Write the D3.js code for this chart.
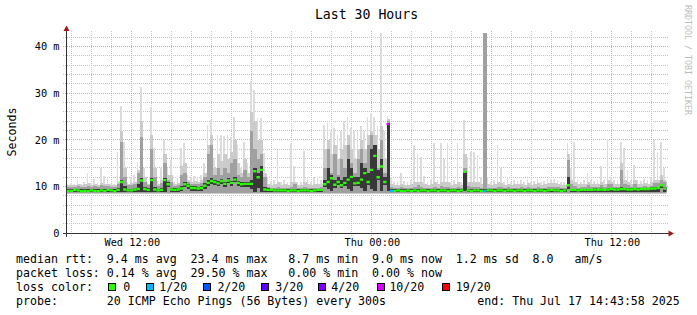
<!DOCTYPE html>
<html><head><meta charset="utf-8">
<script src="https://cdn.jsdelivr.net/npm/d3@7"></script>
<style>
html,body{margin:0;padding:0;background:#fff;}
svg{display:block;}
text{font-family:"DejaVu Sans Mono",monospace;white-space:pre;}
</style></head><body>
<svg id="c" width="697" height="315" xml:space="preserve"></svg>
<script>
// ---- data: 180 buckets of 10 minutes, Wed Jul 16 08:43:58 -> Thu Jul 17 14:43:58 (ms)
const medianMs = [
9.1,9.1,9.3,9.2,9.0,9.1,9.0,9.2,9.1,9.0, 9.2,9.1,9.3,9.2,9.0,9.3,11.0,9.4,9.2,9.2,
9.4,9.5,11.3,9.5,9.3,11.4,9.4,9.2,9.3,11.4, 10.5,9.4,9.3,9.4,9.6,10.5,10.2,9.7,9.7,9.6,
9.7,10.2,10.8,11.2,11.0,10.7,11.2,10.6,11.3,10.8, 11.5,10.8,10.5,10.6,10.6,10.6,13.3,12.0,13.6,9.4,
9.3,9.3,9.2,9.2,9.2,9.2,9.1,9.2,9.2,9.1, 9.2,9.2,9.2,9.1,9.2,9.3,9.3,10.5,11.0,11.8,
10.4,11.0,10.3,10.8,11.5,12.1,10.7,10.8,11.5,12.9, 11.0,13.6,16.6,12.0,14.3,11.0,23.4,9.1,9.1,9.2,
9.1,9.1,9.2,9.1,9.2,9.1,9.2,9.2,9.1,9.2, 9.2,9.1,9.2,9.2,9.1,9.2,9.2,9.1,9.2,13.2,
9.2,9.1,9.2,9.2,9.1,9.1,9.2,9.2,9.1,9.2, 9.2,9.1,9.2,9.2,9.1,9.2,9.2,9.1,9.2,9.2,
9.1,9.2,9.2,9.1,9.2,9.3,9.2,9.2,9.1,9.2, 10.3,9.3,9.3,9.2,9.3,9.3,9.3,9.3,9.4,9.3,
9.4,9.3,9.4,9.5,9.4,9.4,9.5,9.5,9.4,9.4, 9.5,9.4,9.5,9.5,9.5,9.6,9.6,9.7,10.3,9.6];
const coreLowMs = [
8.9,8.9,8.9,8.9,8.9,8.9,8.9,8.9,8.9,8.9, 8.9,8.9,8.9,8.9,8.9,8.9,8.9,8.9,8.9,8.9,
8.9,8.9,8.9,8.9,8.9,8.9,8.9,8.9,8.9,8.9, 9.9,8.9,8.9,8.9,9.0,9.9,9.6,9.1,9.1,9.0,
9.1,9.6,10.2,10.6,10.4,10.1,10.6,10.0,10.7,10.2, 10.9,10.2,9.9,10.0,10.0,9.6,8.9,9.8,8.9,8.9,
8.9,8.9,8.9,8.9,8.9,8.9,8.9,8.9,8.9,8.9, 8.9,8.9,8.9,8.9,8.9,8.9,8.9,9.9,9.6,9.0,
9.8,10.4,9.7,10.2,9.5,9.0,10.1,10.2,9.8,9.0, 10.4,9.6,9.0,11.4,9.0,10.4,9.0,8.9,8.9,8.9,
8.9,8.9,8.9,8.9,8.9,8.9,8.9,8.9,8.9,8.9, 8.9,8.9,8.9,8.9,8.9,8.9,8.9,8.9,8.9,9.0,
8.9,8.9,8.9,8.9,8.9,8.9,8.9,8.9,8.9,8.9, 8.9,8.9,8.9,8.9,8.9,8.9,8.9,8.9,8.9,8.9,
8.9,8.9,8.9,8.9,8.9,8.9,8.9,8.9,8.9,8.9, 9.5,8.9,8.9,8.9,8.9,8.9,8.9,8.9,8.9,8.9,
8.9,8.9,8.9,8.9,8.9,8.9,8.9,8.9,8.9,8.9, 8.9,8.9,8.9,8.9,8.9,8.9,8.9,8.9,9.7,8.9];
const coreMs = [
9.5,9.5,9.6,9.6,9.4,9.5,9.4,9.6,9.5,9.4, 9.6,9.5,9.6,9.5,9.4,9.7,11.4,10.2,9.6,9.6,
9.8,10.5,11.8,10.0,9.7,11.8,10.0,9.6,9.7,11.8, 11.0,9.8,9.7,9.8,10.1,10.9,10.6,10.1,10.1,10.0,
10.1,10.7,11.4,11.8,11.5,11.2,11.7,11.1,11.8,11.3, 12.0,11.3,11.0,11.1,11.1,11.5,14.0,13.0,14.5,10.0,
9.7,9.6,9.5,9.5,9.5,9.5,9.4,9.5,9.5,9.4, 9.5,9.5,9.5,9.4,9.5,9.6,9.6,11.5,14.0,12.5,
11.5,12.0,11.5,12.0,16.0,14.0,12.0,12.0,15.0,14.0, 13.0,18.0,19.0,13.5,16.0,12.0,23.6,9.5,9.4,9.5,
9.4,9.4,9.5,9.4,9.5,9.4,9.5,9.5,9.4,9.5, 9.5,9.4,9.5,9.5,9.4,9.5,9.5,9.4,9.5,13.2,
9.5,9.4,9.5,9.5,9.4,9.5,9.5,9.5,9.4,9.5, 9.5,9.4,9.5,9.5,9.4,9.5,9.5,9.4,9.5,9.5,
9.4,9.5,9.5,9.4,9.5,9.6,9.5,9.5,9.4,9.5, 12.0,9.6,9.6,9.5,9.6,9.6,9.6,9.6,9.7,9.6,
9.7,9.6,9.7,9.8,9.7,9.7,9.9,9.8,9.7,9.7, 9.8,9.7,9.8,9.8,9.8,9.9,10.0,10.0,10.6,10.0];
const upperMs = [
9.9,10.0,10.0,10.2,9.9,10.0,10.2,10.0,10.1,9.9, 10.3,10.1,10.2,9.9,9.9,10.5,19.6,12.0,10.3,10.4,
10.6,13.0,20.7,11.0,10.3,18.0,12.0,10.2,10.8,15.0, 11.5,11.0,10.2,10.4,12.5,13.0,11.0,10.5,10.6,10.5,
10.8,12.0,17.0,19.0,12.5,14.0,12.5,14.0,13.0,15.0, 16.0,12.5,12.0,13.5,12.0,22.0,18.0,16.0,17.0,12.0,
10.0,9.8,9.8,10.0,9.8,9.8,9.8,10.0,10.5,9.8, 9.8,10.0,9.8,9.7,9.8,9.8,10.0,14.0,18.0,13.0,
17.0,12.5,16.0,14.0,19.0,15.0,13.0,16.0,18.0,15.0, 19.0,21.0,18.0,14.0,20.0,13.0,24.0,10.0,9.8,9.8,
10.0,9.8,9.8,9.8,10.0,10.3,10.0,9.8,9.8,9.8, 10.0,9.8,10.2,10.0,10.0,9.8,9.8,10.0,9.8,14.0,
10.2,10.0,10.0,10.0,9.8,42.9,9.8,9.8,9.8,10.0, 10.0,9.8,10.0,9.8,9.8,9.8,9.9,9.8,9.9,9.8,
9.8,9.9,9.8,9.8,10.0,10.0,10.0,9.9,9.8,9.8, 15.7,10.5,10.2,9.8,9.9,9.9,10.3,9.9,10.0,9.9,
10.3,10.0,10.5,10.5,10.0,10.0,13.6,10.5,10.3,10.0, 10.5,10.0,10.0,10.2,10.0,10.2,10.8,10.8,11.5,11.0];
const p90Ms = [
10.3,10.4,10.3,10.6,10.3,10.5,10.8,10.4,10.6,10.3, 10.8,10.6,10.6,10.3,10.3,11.0,22.0,14.0,10.5,10.8,
11.0,13.5,24.0,12.0,10.6,21.0,14.0,10.6,11.5,17.0, 12.5,12.5,10.6,10.8,14.5,15.0,11.5,11.0,11.2,11.0,
11.5,13.0,19.0,21.0,14.0,17.0,15.5,17.0,16.0,17.5, 20.0,15.0,13.0,16.0,13.0,26.0,24.0,20.0,20.0,13.0,
10.6,10.4,10.5,11.0,10.4,10.5,10.4,11.0,11.0,10.4, 10.4,11.0,10.6,10.3,10.6,10.6,10.6,18.0,20.0,17.0,
19.0,16.0,18.0,19.0,21.0,18.0,16.0,18.0,20.0,18.0, 21.0,22.0,21.0,18.0,23.0,16.0,24.5,10.6,10.4,10.4,
10.6,10.4,10.4,10.5,11.0,11.0,11.0,10.6,10.4,10.5, 11.0,10.5,11.0,11.0,11.0,10.4,10.5,11.0,10.4,17.0,
11.0,11.0,11.0,11.0,10.5,42.9,10.5,10.4,10.5,11.0, 10.8,10.4,10.6,10.4,10.5,10.5,10.6,10.4,10.7,10.4,
10.5,10.7,10.4,10.5,10.8,10.8,10.8,10.6,10.4,10.4, 17.0,11.5,11.0,10.6,10.5,10.6,11.0,10.6,10.6,10.6,
11.0,10.6,11.5,11.0,10.6,10.5,15.0,11.5,11.0,10.6, 11.5,10.6,10.6,10.8,10.6,11.0,11.5,11.5,12.5,11.5];
const maxMs = [
10.5,10.8,10.6,11.6,10.6,11.0,13.0,10.8,11.6,10.7, 14.0,12.2,12.1,10.6,10.5,17.5,27.3,19.6,11.0,12.0,
12.5,15.3,31.4,14.0,11.0,27.1,18.3,11.2,13.9,20.0, 14.0,15.8,11.0,12.0,18.3,19.3,12.5,12.0,12.3,12.0,
12.5,15.0,23.2,24.3,16.0,21.0,21.0,20.8,21.1,20.7, 25.0,19.0,14.0,19.5,15.0,32.6,30.8,24.7,24.7,17.2,
12.0,11.0,11.5,17.9,11.0,11.5,11.0,19.3,14.4,11.0, 11.0,17.6,12.0,11.0,12.0,12.0,11.5,23.3,23.6,22.0,
22.6,21.0,22.0,24.0,25.0,22.6,22.0,22.0,23.0,22.0, 25.0,25.8,25.0,23.0,42.9,22.0,25.1,12.0,11.0,11.0,
12.9,11.2,11.0,11.5,18.9,17.0,16.4,12.3,11.0,11.5, 19.3,11.5,19.3,16.0,19.3,11.0,11.5,19.3,11.0,24.3,
16.4,17.5,17.5,16.8,12.0,42.9,12.0,11.0,11.5,18.9, 13.9,11.0,12.1,11.0,11.5,11.2,11.4,11.0,11.6,11.0,
11.2,11.6,11.0,11.2,11.6,11.6,11.6,11.4,11.0,11.0, 19.3,13.9,19.6,11.5,11.0,11.5,13.0,11.5,11.2,11.5,
14.4,11.5,20.3,12.1,11.5,11.2,19.6,18.2,13.5,11.5, 14.7,11.5,11.2,11.6,11.5,12.0,19.9,17.5,19.6,14.0];
const pingFloorMs = 8.5;
const lossBucket = [96, 97, 125];
const lossPings = [10, 1, 1];
const lossLabels = ["0", "1/20", "2/20", "3/20", "4/20", "10/20", "19/20"];
const lossThresholds = [0, 1, 2, 3, 4, 10, 19];
const lossColors = ["#26ff00", "#00b8ff", "#0059ff", "#5e00ff", "#7e00ff", "#dd00ff", "#ff0000"];
const yTicks = [0, 10, 20, 30, 40];
const yTickLabels = ["0", "10 m", "20 m", "30 m", "40 m"];
const titleText = "Last 30 Hours";
const yTitle = "Seconds";
const rttLine = "median rtt:  9.4 ms avg  23.4 ms max   8.7 ms min  9.0 ms now  1.2 ms sd  8.0   am/s";
const lossLine = "packet loss: 0.14 % avg  29.50 % max   0.00 % min  0.00 % now";
const probeLine = "probe:       20 ICMP Echo Pings (56 Bytes) every 300s";
const endLine = "end: Thu Jul 17 14:43:58 2025";
const watermark = "RRDTOOL / TOBI OETIKER";

// ---- layout
const start = new Date(2025, 6, 16, 8, 43, 58);
const end = new Date(2025, 6, 17, 14, 43, 58);
const stepMs = 10 * 60 * 1000;      // bucket
const pingStepMs = 5 * 60 * 1000;   // probe interval (300s)
const t = i => new Date(start.getTime() + i * stepMs);
const x = d3.scaleTime().domain([start, end]).range([66.5, 666.5]);
const y = d3.scaleLinear().domain([0, 43.35]).range([233.3, 31]);
const snap = v => Math.floor(v) + 0.5;
const svg = d3.select("#c");

svg.append("rect").attr("width", 697).attr("height", 315).attr("fill", "#fff");

// grid
const grid = svg.append("g").attr("shape-rendering", "crispEdges").attr("stroke-dasharray", "1,1");
const minorY = d3.range(2, 43.35, 2).filter(v => v % 10 !== 0);
grid.selectAll(".gy").data(minorY).join("line")
  .attr("x1", 63).attr("x2", 668).attr("y1", d => snap(y(d))).attr("y2", d => snap(y(d)))
  .attr("stroke", "#c4c4c4");
const hours = d3.timeHour.range(d3.timeHour.ceil(start), end);
const minorX = hours.filter(h => h.getHours() % 6 !== 0);
const majorX = hours.filter(h => h.getHours() % 6 === 0);
grid.selectAll(".gx").data(minorX).join("line")
  .attr("x1", d => snap(x(d))).attr("x2", d => snap(x(d))).attr("y1", 31).attr("y2", 236)
  .attr("stroke", "#c4c4c4");
grid.selectAll(".my").data(yTicks.filter(v => v > 0)).join("line")
  .attr("x1", 63).attr("x2", 668).attr("y1", d => snap(y(d))).attr("y2", d => snap(y(d)))
  .attr("stroke", "#eaa0a0");
grid.selectAll(".mx").data(majorX).join("line")
  .attr("x1", d => snap(x(d))).attr("x2", d => snap(x(d))).attr("y1", 31).attr("y2", 237)
  .attr("stroke", "#eaa0a0");

// smoke
svg.append("clipPath").attr("id", "clip").append("rect")
  .attr("x", 66.5).attr("y", 31).attr("width", 600).attr("height", 202.3);
const plot = svg.append("g").attr("clip-path", "url(#clip)").attr("shape-rendering", "crispEdges");
const idx = d3.range(medianMs.length);
const layer = (top, bottom, fill, stepW) => plot.append("g").selectAll("rect").data(idx).join("rect")
  .attr("x", i => x(t(i)))
  .attr("width", i => x(new Date(t(i).getTime() + stepW)) - x(t(i)))
  .attr("y", i => y(top(i)))
  .attr("height", i => Math.max(0, y(bottom(i)) - y(top(i))))
  .attr("fill", fill);
// highest ping of the bucket comes from one 300s probe round
layer(i => maxMs[i], i => pingFloorMs, "#dcdcdc", pingStepMs);
layer(i => p90Ms[i], i => pingFloorMs, "#cbcbcb", stepMs);
layer(i => upperMs[i], i => pingFloorMs + 0.1, "#a0a0a0", stepMs);
layer(i => coreMs[i], i => coreLowMs[i], "#383838", stepMs);

// median coloured by loss
const lossOf = i => { const k = lossBucket.indexOf(i); return k < 0 ? 0 : lossPings[k]; };
const colorOf = p => { let c = lossColors[0]; lossThresholds.forEach((th, k) => { if (p >= th) c = lossColors[k]; }); return c; };
const med = svg.append("g").attr("clip-path", "url(#clip)");
med.selectAll("line").data(idx).join("line")
  .attr("x1", i => x(t(i))).attr("x2", i => x(t(i + 1)))
  .attr("y1", i => y(medianMs[i])).attr("y2", i => y(medianMs[i]))
  .attr("stroke", i => colorOf(lossOf(i))).attr("stroke-width", 2.4);

// axes
const ax = svg.append("g").attr("shape-rendering", "crispEdges").attr("stroke", "#333");
ax.append("line").attr("x1", 63).attr("x2", 672).attr("y1", 233.5).attr("y2", 233.5);
ax.append("line").attr("x1", 66.5).attr("x2", 66.5).attr("y1", 237).attr("y2", 28);
svg.append("path").attr("d", "M66.5,25.5 L63.5,31 L69.5,31 Z").attr("fill", "#a01818");
svg.append("path").attr("d", "M674,233.5 L668.5,230.5 L668.5,236.5 Z").attr("fill", "#a01818");

// tick labels
svg.append("g").selectAll("text").data(yTicks).join("text")
  .attr("x", 59.5).attr("y", d => y(d) + 3.6).attr("text-anchor", "end")
  .attr("font-size", "10.3px").attr("fill", "#000").text((d, k) => yTickLabels[k]);
const xLabelTimes = hours.filter(h => h.getHours() % 12 === 0);
const fmt = d3.timeFormat("%a %H:%M");
svg.append("g").selectAll("text").data(xLabelTimes).join("text")
  .attr("x", d => x(d) + 0.5).attr("y", 245.5).attr("text-anchor", "middle")
  .attr("font-size", "10.3px").attr("fill", "#000").text(d => fmt(d));

// titles
svg.append("text").attr("x", 366.5).attr("y", 18.5).attr("text-anchor", "middle")
  .attr("font-size", "13.2px").attr("fill", "#000").text(titleText);
svg.append("text").attr("transform", "translate(15.5,132) rotate(-90)").attr("text-anchor", "middle")
  .attr("font-size", "11.6px").attr("fill", "#000").text(yTitle);
svg.append("text").attr("transform", "translate(684.5,5) rotate(90)")
  .attr("font-size", "8.3px").attr("fill", "#bcbcbc").text(watermark);

// legend
const lx = 16.1;
const leg = svg.append("g").attr("font-size", "11.6px").attr("fill", "#000");
leg.append("text").attr("x", lx).attr("y", 263.3).text(rttLine);
leg.append("text").attr("x", lx).attr("y", 277.1).text(lossLine);
leg.append("text").attr("x", lx).attr("y", 290.9).text("loss color:");
leg.append("text").attr("x", lx).attr("y", 304.7).text(probeLine);
leg.append("text").attr("x", 477.3).attr("y", 304.7).text(endLine);
const boxX = [108.5, 146, 203.5, 261, 318.5, 377.5, 442];
const labX = [123.3, 159.2, 217.4, 275.2, 331.2, 389.4, 455.8];
const lg = svg.append("g");
lg.selectAll("rect").data(lossColors).join("rect")
  .attr("x", (d, k) => boxX[k]).attr("y", 283.5).attr("width", 7).attr("height", 7)
  .attr("fill", d => d).attr("stroke", "#000").attr("stroke-width", 1).attr("shape-rendering", "crispEdges");
lg.selectAll("text").data(lossLabels).join("text")
  .attr("x", (d, k) => labX[k]).attr("y", 290.9).attr("font-size", "11.6px").attr("fill", "#000").text(d => d);
</script>
</body></html>
